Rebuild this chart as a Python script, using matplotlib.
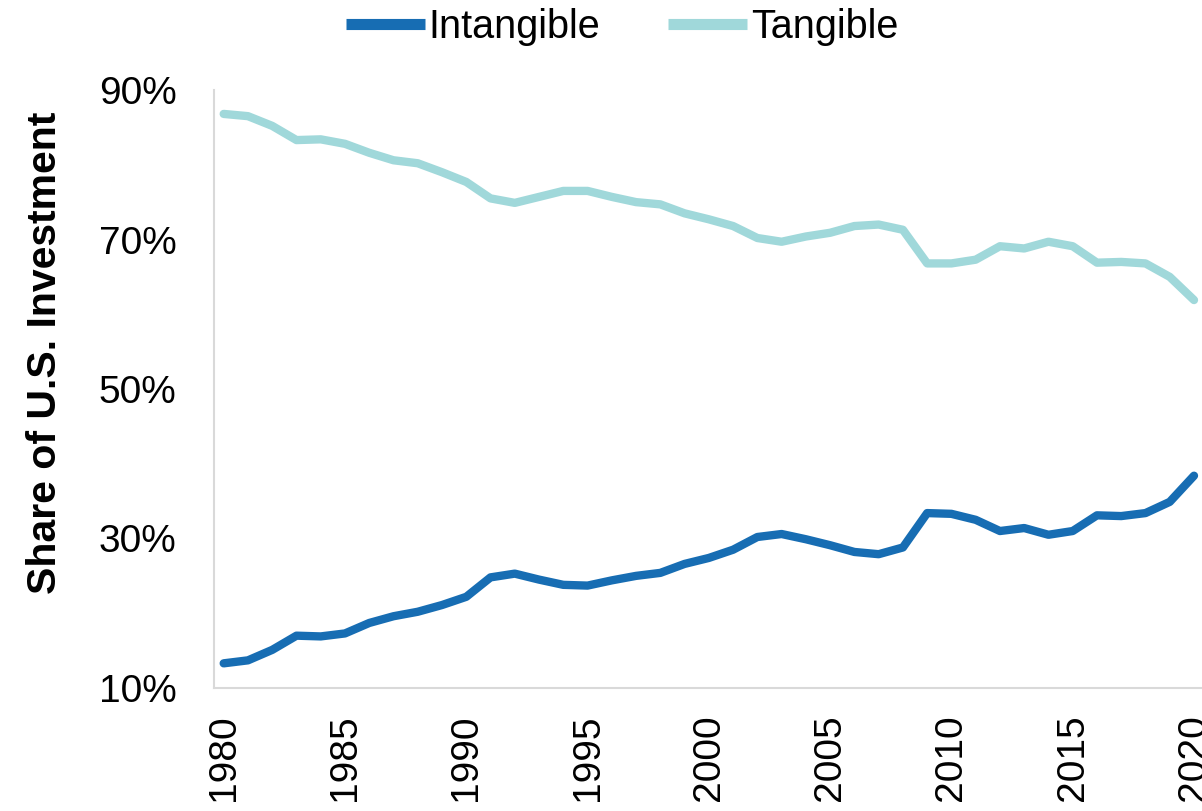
import numpy as np
import matplotlib
matplotlib.use("Agg")
from matplotlib import pyplot as plt
from matplotlib.ticker import FuncFormatter

plt.rcParams['font.family'] = ['Liberation Sans', 'DejaVu Sans']

years = list(range(1980, 2021))

intangible = [13.3, 13.7, 15.1, 17.0, 16.9, 17.3, 18.7, 19.6, 20.2, 21.1,
              22.2, 24.8, 25.3, 24.5, 23.8, 23.7, 24.4, 25.0, 25.4, 26.6,
              27.4, 28.5, 30.2, 30.6, 29.9, 29.1, 28.2, 27.9, 28.8, 33.4,
              33.3, 32.5, 31.0, 31.4, 30.5, 31.0, 33.1, 33.0, 33.4, 34.9,
              38.4]

tangible = [86.8, 86.5, 85.2, 83.3, 83.4, 82.8, 81.6, 80.6, 80.2, 79.0,
            77.7, 75.5, 74.9, 75.7, 76.5, 76.5, 75.7, 75.0, 74.7, 73.5,
            72.7, 71.8, 70.2, 69.7, 70.4, 70.9, 71.8, 72.0, 71.3, 66.8,
            66.8, 67.3, 69.1, 68.8, 69.7, 69.1, 66.9, 67.0, 66.8, 65.0,
            61.9]

y_ticks = [10, 30, 50, 70, 90]
x_ticks = list(range(1980, 2021, 5))

fig = plt.figure(figsize=(12.02, 8.11), dpi=100)
ax = fig.add_axes([214 / 1202, 1 - 688 / 811, 1 - 214 / 1202, (688 - 90) / 811])

ax.plot(years, intangible, color='#176db3', linewidth=6,
        solid_capstyle='round', label='Intangible')
ax.plot(years, tangible, color='#a0d8da', linewidth=6,
        solid_capstyle='round', label='Tangible')

ax.set_xlim(1979.6, 2020.33)
ax.set_ylim(10, 90)
ax.set_yticks(y_ticks)
ax.set_xticks(x_ticks)
ax.yaxis.set_major_formatter(FuncFormatter(lambda v, p: f"{v:.0f}%"))

for s in ['top', 'right']:
    ax.spines[s].set_visible(False)
for s in ['left', 'bottom']:
    ax.spines[s].set_color('#d9d9d9')
    ax.spines[s].set_linewidth(1.5)

ax.tick_params(axis='both', length=0, labelsize=28, colors='black')
ax.tick_params(axis='y', pad=27)
ax.tick_params(axis='x', pad=19, labelrotation=90)

ax.set_ylabel("Share of U.S. Investment", fontsize=29.5, fontweight='bold')
ax.yaxis.set_label_coords(-0.152, 0.56)

leg = fig.legend(loc='center', bbox_to_anchor=(622 / 1202, 1 - 27 / 811),
                 ncol=2, frameon=False, fontsize=28.5, handlelength=2.0,
                 handletextpad=0.1, columnspacing=1.7)
for h in leg.legend_handles:
    h.set_linewidth(8)
    h.set_solid_capstyle('butt')

plt.savefig('out.png', dpi=100)
